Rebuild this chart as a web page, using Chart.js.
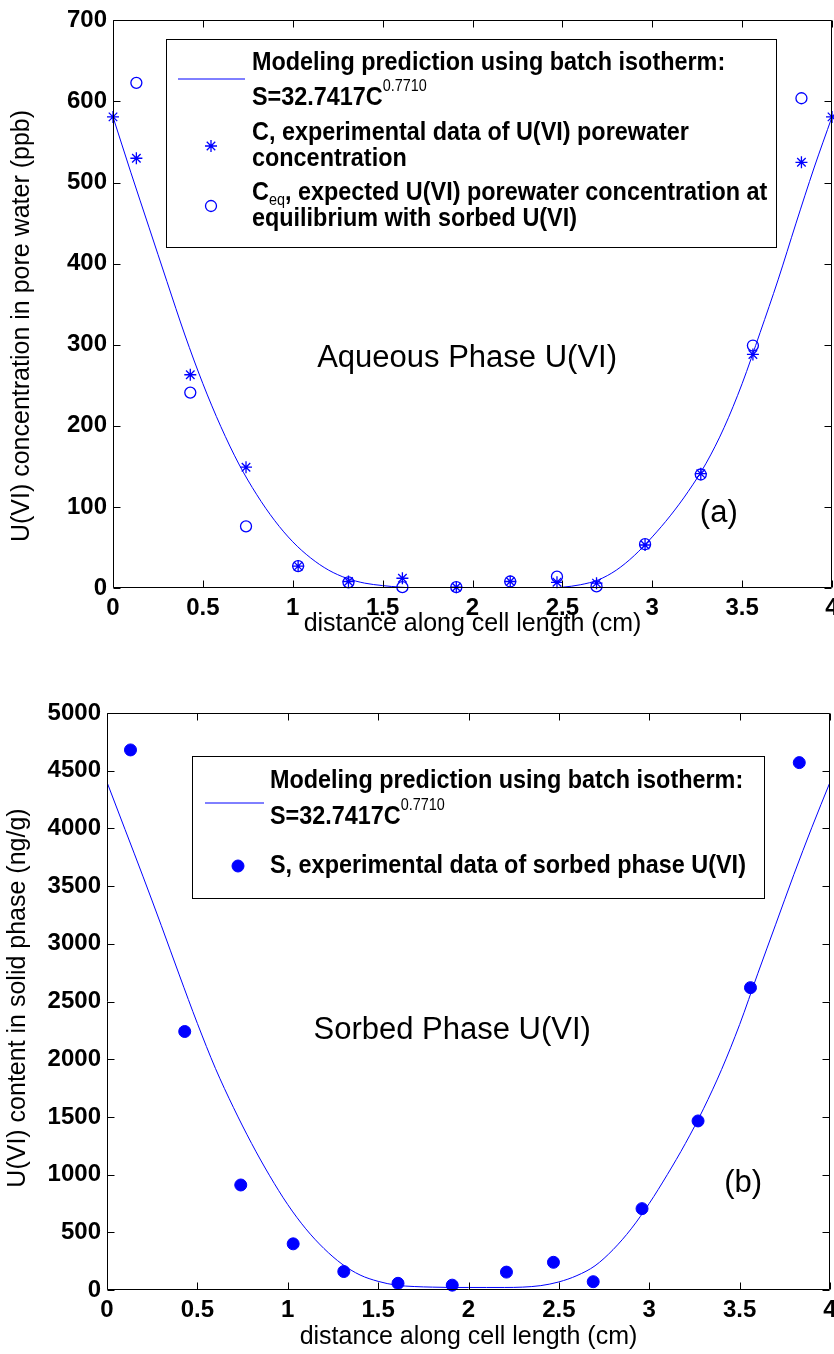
<!DOCTYPE html>
<html>
<head>
<meta charset="utf-8">
<script src="https://cdn.jsdelivr.net/npm/chart.js@4.4.0/dist/chart.umd.min.js"></script>
<style>
  html, body { margin: 0; padding: 0; background: #fff; overflow: hidden; }
  body { width: 834px; height: 1354px; position: relative; }
  .panel { position: absolute; left: 0; }
  #top { top: 0; }
  #bottom { top: 650px; }
</style>
</head>
<body>
<div class="panel" id="top"><canvas id="aqueous" width="846" height="650"></canvas></div>
<div class="panel" id="bottom"><canvas id="sorbed" width="846" height="704"></canvas></div>
<script>
// sampling positions along the cell (cm)
const sampleX = [0.13, 0.43, 0.74, 1.03, 1.31, 1.61, 1.91, 2.21, 2.47, 2.69, 2.96, 3.27, 3.56, 3.83];
// boundary porewater concentration at both cell ends (ppb)
const boundaryX = [0, 4];
const boundaryC = [581, 581];
// C: measured porewater U(VI) (ppb)
const measuredC = [530, 263, 149, 27, 8, 12, 1, 8, 7, 6, 53, 141, 288, 525];
// Ceq: porewater U(VI) in equilibrium with sorbed U(VI) (ppb)
const equilC = [623, 241, 76, 27, 7, 1, 1, 8, 14, 2, 54, 140, 299, 604];
// S: measured sorbed U(VI) (ng/g)
const sorbedS = [4680, 2240, 910, 400, 160, 58, 42, 155, 240, 72, 705, 1465, 2620, 4570];

// model prediction (batch isotherm)
const modelX = [0, 0.1, 0.2, 0.3, 0.4, 0.5, 0.6, 0.7, 0.8, 0.9, 1.0, 1.1, 1.2, 1.3, 1.4, 1.5, 1.6, 1.7, 1.8, 1.9, 2.0,
                2.1, 2.2, 2.3, 2.4, 2.5, 2.6, 2.7, 2.8, 2.9, 3.0, 3.1, 3.2, 3.3, 3.4, 3.5, 3.6, 3.7, 3.8, 3.9, 4.0];
const modelC = [581, 512, 445, 378, 312, 252, 199, 153, 115, 83, 57, 37, 22, 12, 6, 3, 1, 0, 0, 0, 0,
                0, 0, 0, 0, 1, 4, 10, 22, 40, 63, 89, 119, 154, 198, 252, 315, 380, 450, 518, 581];
const modelS = [4400, 3990, 3580, 3160, 2730, 2310, 1920, 1580, 1270, 990, 740, 530, 360, 225, 130, 75, 42, 30, 25, 22, 22,
                22, 22, 25, 38, 70, 125, 210, 350, 530, 750, 1000, 1270, 1570, 1910, 2300, 2740, 3170, 3600, 4010, 4400];

const xTicks = [0, 0.5, 1, 1.5, 2, 2.5, 3, 3.5, 4];
const cTicks = [0, 100, 200, 300, 400, 500, 600, 700];
const sTicks = [0, 500, 1000, 1500, 2000, 2500, 3000, 3500, 4000, 4500, 5000];

const blue = '#0000ff';
const family = '"Liberation Sans", Arial, sans-serif';
const tickFont = { family: family, size: 24, weight: 'bold' };
const titleFont = { family: family, size: 25, weight: 'normal' };
const sideTitleFont = '25px ' + family;
const legendFont = 'bold 26px ' + family;
const smallFont = '16px ' + family;
const noteFont = '31px ' + family;
const squeeze = 0.9;   // legend glyphs are narrow and tall

function pts(xs, ys) {
  return xs.map((x, i) => ({ x: x, y: ys[i] }));
}

function marker(ctx, style, x, y, r) {
  ctx.beginPath();
  if (style === 'star') {
    const d = r * Math.SQRT1_2;
    ctx.moveTo(x - r, y); ctx.lineTo(x + r, y);
    ctx.moveTo(x, y - r); ctx.lineTo(x, y + r);
    ctx.moveTo(x - d, y - d); ctx.lineTo(x + d, y + d);
    ctx.moveTo(x - d, y + d); ctx.lineTo(x + d, y - d);
    ctx.stroke();
  } else {
    ctx.arc(x, y, r, 0, Math.PI * 2);
    ctx.fill();
    ctx.stroke();
  }
}

// text with optional super/subscript pieces, squeezed horizontally
function richText(ctx, parts, x, y) {
  ctx.save();
  ctx.translate(x, y);
  ctx.scale(squeeze, 1);
  ctx.textAlign = 'left';
  ctx.textBaseline = 'middle';
  ctx.fillStyle = '#000';
  let cx = 0;
  parts.forEach(p => {
    if (typeof p === 'string') {
      ctx.font = legendFont;
      ctx.fillText(p, cx, 0);
      cx += ctx.measureText(p).width;
    } else {
      const t = p.sup || p.sub;
      ctx.font = smallFont;
      ctx.fillText(t, cx, p.sup ? -11 : 8);
      cx += ctx.measureText(t).width;
    }
  });
  ctx.restore();
}

// closed box with inward ticks on all four sides
const boxFrame = {
  id: 'boxFrame',
  afterDraw(chart) {
    const { ctx, chartArea: a, scales } = chart;
    const L = Math.round(a.left) + 0.5, R = Math.round(a.right) - 0.5;
    const T = Math.round(a.top) + 0.5, B = Math.round(a.bottom) - 0.5;
    ctx.save();
    ctx.strokeStyle = '#000';
    ctx.lineWidth = 1;
    ctx.beginPath();
    ctx.rect(L, T, R - L, B - T);
    scales.x.ticks.forEach(t => {
      const px = Math.round(scales.x.getPixelForValue(t.value)) + 0.5;
      ctx.moveTo(px, B); ctx.lineTo(px, B - 7);
      ctx.moveTo(px, T); ctx.lineTo(px, T + 7);
    });
    scales.y.ticks.forEach(t => {
      const py = Math.round(scales.y.getPixelForValue(t.value)) + 0.5;
      ctx.moveTo(L, py); ctx.lineTo(L + 7, py);
      ctx.moveTo(R, py); ctx.lineTo(R - 7, py);
    });
    ctx.stroke();
    ctx.restore();
  }
};

const boxLegend = {
  id: 'boxLegend',
  afterDatasetsDraw(chart, args, opts) {
    const ctx = chart.ctx;
    const [x0, y0, x1, y1] = opts.box;
    ctx.save();
    ctx.fillStyle = '#fff';
    ctx.fillRect(x0, y0, x1 - x0, y1 - y0);
    ctx.strokeStyle = '#000';
    ctx.lineWidth = 1;
    ctx.strokeRect(x0 + 0.5, y0 + 0.5, x1 - x0, y1 - y0);
    opts.entries.forEach(e => {
      const ds = chart.data.datasets[e.dataset];
      ctx.strokeStyle = ds.borderColor;
      ctx.fillStyle = ds.backgroundColor;
      ctx.lineWidth = ds.borderWidth;
      if (e.line) {
        ctx.beginPath();
        ctx.moveTo(e.line[0], e.at);
        ctx.lineTo(e.line[1], e.at);
        ctx.stroke();
      } else {
        marker(ctx, ds.pointStyle, e.markerX, e.at, ds.pointRadius);
      }
      e.rows.forEach(r => richText(ctx, r.parts, opts.textX, r.y));
    });
    ctx.restore();
  }
};

// in-plot labels plus the rotated y-axis title
const plotNotes = {
  id: 'plotNotes',
  afterDatasetsDraw(chart, args, opts) {
    const { ctx, scales } = chart;
    ctx.save();
    ctx.font = noteFont;
    ctx.fillStyle = '#000';
    ctx.textAlign = 'center';
    ctx.textBaseline = 'middle';
    opts.notes.forEach(n => {
      ctx.fillText(n.text, scales.x.getPixelForValue(n.x), scales.y.getPixelForValue(n.y));
    });
    const s = opts.side;
    ctx.translate(s.x, s.y);
    ctx.rotate(-Math.PI / 2);
    ctx.font = sideTitleFont;
    ctx.fillText(s.text, 0, 0);
    ctx.restore();
  }
};

function axis(min, max, tickList, title, size, titlePad, tickPad, horizontal) {
  return {
    type: 'linear',
    min: min,
    max: max,
    afterBuildTicks: s => { s.ticks = tickList.map(v => ({ value: v })); },
    afterFit: s => { if (horizontal) s.height = size; else s.width = size; },
    grid: { display: false, drawTicks: false },
    border: { display: false },
    ticks: { font: tickFont, color: '#000', padding: tickPad, autoSkip: false, maxRotation: 0, callback: v => String(v) },
    title: { display: !!title, text: title, font: titleFont, color: '#000', padding: titlePad }
  };
}

const common = {
  responsive: false,
  animation: false,
  events: [],
  plugins: { legend: { display: false }, tooltip: { enabled: false } }
};

// (a) aqueous phase
new Chart(document.getElementById('aqueous'), {
  type: 'scatter',
  data: {
    datasets: [
      { label: 'model', data: pts(modelX, modelC), showLine: true, borderColor: blue, backgroundColor: blue,
        borderWidth: 1, pointRadius: 0, cubicInterpolationMode: 'monotone' },
      { label: 'C', data: pts([boundaryX[0]].concat(sampleX, [boundaryX[1]]), [boundaryC[0]].concat(measuredC, [boundaryC[1]])),
        pointStyle: 'star', pointRadius: 6, borderColor: blue, backgroundColor: blue, borderWidth: 1.3, clip: false },
      { label: 'Ceq', data: pts(sampleX, equilC), pointStyle: 'circle', pointRadius: 5.5,
        borderColor: blue, backgroundColor: 'rgba(0,0,0,0)', borderWidth: 1.3, clip: false }
    ]
  },
  options: Object.assign({}, common, {
    layout: { padding: { top: 17, right: 14, left: 0, bottom: 0 } },
    scales: {
      x: axis(0, 4, xTicks, 'distance along cell length (cm)', 62, { top: 0, bottom: 11 }, 6, true),
      y: axis(0, 700, cTicks, '', 113, 0, 6, false)
    },
    plugins: Object.assign({}, common.plugins, {
      boxLegend: {
        box: [166, 39, 776, 247],
        textX: 252,
        entries: [
          { dataset: 0, line: [178, 245], at: 79,
            rows: [{ y: 63, parts: ['Modeling prediction using batch isotherm:'] },
                   { y: 98, parts: ['S=32.7417C', { sup: '0.7710' }] }] },
          { dataset: 1, markerX: 211, at: 146,
            rows: [{ y: 133, parts: ['C, experimental data of U(VI) porewater'] },
                   { y: 159, parts: ['concentration'] }] },
          { dataset: 2, markerX: 211, at: 206,
            rows: [{ y: 193, parts: ['C', { sub: 'eq' }, ', expected U(VI) porewater concentration at'] },
                   { y: 219, parts: ['equilibrium with sorbed U(VI)'] }] }
        ]
      },
      plotNotes: {
        notes: [
          { text: 'Aqueous Phase U(VI)', x: 1.97, y: 283 },
          { text: '(a)', x: 3.37, y: 92 }
        ],
        side: { text: 'U(VI) concentration in pore water (ppb)', x: 22, y: 326 }
      }
    })
  }),
  plugins: [boxLegend, plotNotes, boxFrame]
});

// (b) sorbed phase
new Chart(document.getElementById('sorbed'), {
  type: 'scatter',
  data: {
    datasets: [
      { label: 'model', data: pts(modelX, modelS), showLine: true, borderColor: blue, backgroundColor: blue,
        borderWidth: 1, pointRadius: 0, cubicInterpolationMode: 'monotone' },
      { label: 'S', data: pts(sampleX, sorbedS), pointStyle: 'circle', pointRadius: 6,
        borderColor: blue, backgroundColor: blue, borderWidth: 1, clip: false }
    ]
  },
  options: Object.assign({}, common, {
    layout: { padding: { top: 63, right: 16, left: 0, bottom: 0 } },
    scales: {
      x: axis(0, 4, xTicks, 'distance along cell length (cm)', 64, { top: 0, bottom: 2 }, 6, true),
      y: axis(0, 5000, sTicks, '', 107, 0, 6, false)
    },
    plugins: Object.assign({}, common.plugins, {
      boxLegend: {
        box: [192, 106, 764, 248],
        textX: 270,
        entries: [
          { dataset: 0, line: [205, 264], at: 153,
            rows: [{ y: 131, parts: ['Modeling prediction using batch isotherm:'] },
                   { y: 167, parts: ['S=32.7417C', { sup: '0.7710' }] }] },
          { dataset: 1, markerX: 238, at: 216,
            rows: [{ y: 216, parts: ['S, experimental data of sorbed phase U(VI)'] }] }
        ]
      },
      plotNotes: {
        notes: [
          { text: 'Sorbed Phase U(VI)', x: 1.91, y: 2253 },
          { text: '(b)', x: 3.52, y: 927 }
        ],
        side: { text: 'U(VI) content in solid phase (ng/g)', x: 18, y: 348 }
      }
    })
  }),
  plugins: [boxLegend, plotNotes, boxFrame]
});
</script>
</body>
</html>
